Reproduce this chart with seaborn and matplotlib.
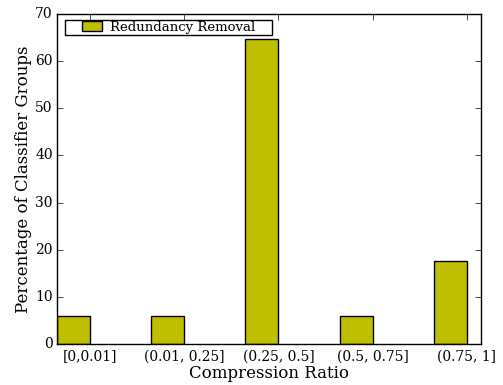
import matplotlib
matplotlib.use("Agg")
import matplotlib.pyplot as plt
from matplotlib.patches import Rectangle
import seaborn as sns
import pandas as pd

categories = ["[0,0.01]", "(0.01, 0.25]", "(0.25, 0.5]", "(0.5, 0.75]", "(0.75, 1]"]
percentages = [5.88, 5.88, 64.71, 5.88, 17.65]
series_label = "Redundancy Removal"
yticks = [0, 10, 20, 30, 40, 50, 60, 70]

plt.style.use("classic")
plt.rcParams["font.family"] = ["DejaVu Serif"]
plt.rcParams["figure.facecolor"] = "white"
plt.rcParams["savefig.facecolor"] = "white"

df = pd.DataFrame({"cat": categories, "pct": percentages})

W, H = 503, 385
fig = plt.figure(figsize=(W / 100, H / 100), dpi=100)
ax = fig.add_axes([57 / W, 41 / H, 424 / W, 330 / H])

w = 0.35
sns.barplot(data=df, x="cat", y="pct", color=(0.75, 0.75, 0.0), saturation=1,
            width=w, edgecolor="black", linewidth=1, label=series_label, ax=ax)

ax.set_xlim(-w / 2, 4.5 - w / 2)
ax.set_ylim(0, 70)
ax.set_yticks(yticks)
ax.set_xticks([i + w / 2 for i in range(len(categories))])
ax.set_xticklabels(categories, fontsize=10)
ax.tick_params(axis="y", labelsize=10, pad=3)
ax.tick_params(axis="x", pad=4)
ax.tick_params(direction="in", top=True, right=True)
ax.set_xlabel("Compression Ratio", fontsize=12, labelpad=1)
ax.set_ylabel("Percentage of Classifier Groups", fontsize=12, labelpad=2)

leg = ax.legend(loc="upper left", fontsize=9.5, frameon=False, borderpad=0,
                borderaxespad=0,
                handlelength=1.5, handleheight=0.75, handletextpad=0.6,
                bbox_to_anchor=(82 / W, 1 - 20.5 / H),
                bbox_transform=fig.transFigure)
fig.patches.append(Rectangle((65 / W, 1 - 35 / H), 207 / W, 15 / H,
                             transform=fig.transFigure, fill=False,
                             edgecolor="black", linewidth=1, zorder=5))

fig.savefig("out.png", dpi=100)
